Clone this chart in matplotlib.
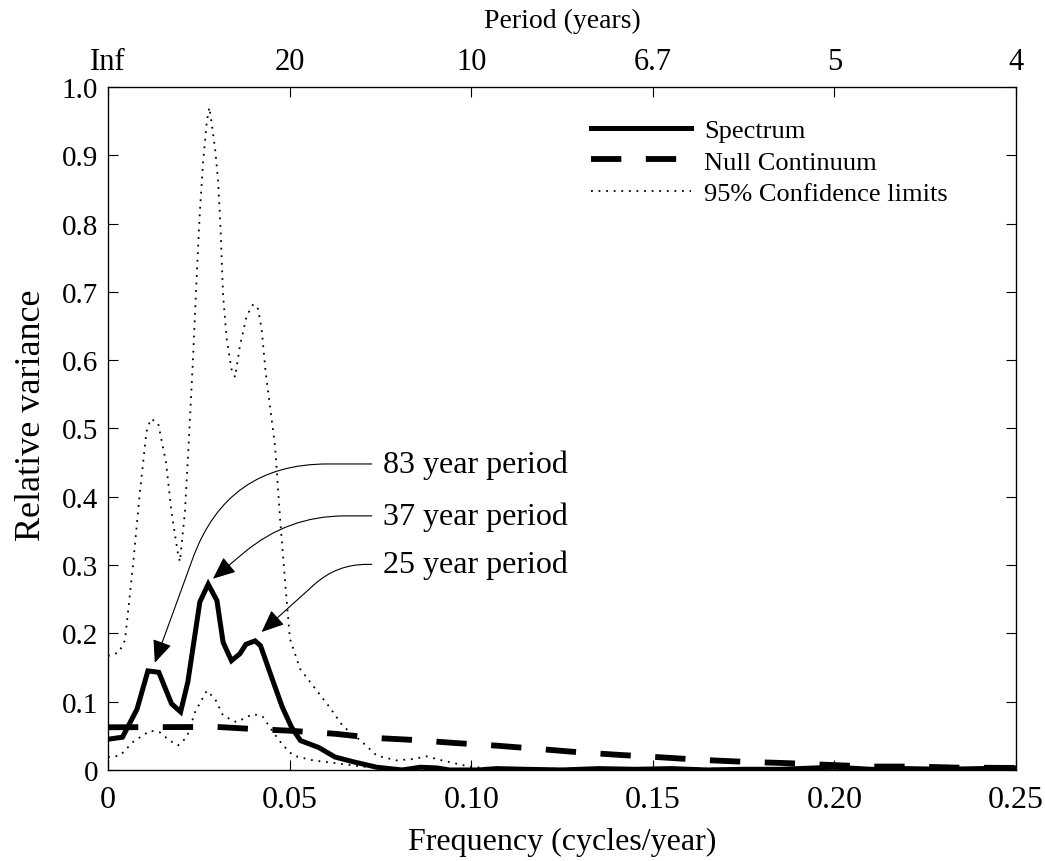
import matplotlib
matplotlib.use("Agg")
import matplotlib.pyplot as plt

plt.rcParams['font.family'] = ['Liberation Serif', 'DejaVu Serif']
plt.rcParams['mathtext.fontset'] = 'stix'

# Spectrum (relative variance vs frequency, cycles/year)
spec_f = [0, 0.004, 0.008, 0.011, 0.014, 0.0175, 0.020, 0.022, 0.0253, 0.0276,
          0.030, 0.0317, 0.034, 0.0363, 0.038, 0.0405, 0.042, 0.0455, 0.048,
          0.0505, 0.053, 0.058, 0.0625, 0.0675, 0.074, 0.081, 0.086, 0.0905,
          0.094, 0.102, 0.107, 0.115, 0.125, 0.135, 0.145, 0.155, 0.165,
          0.175, 0.185, 0.195, 0.200, 0.210, 0.220, 0.230, 0.240, 0.250]
spec_v = [0.045, 0.048, 0.089, 0.145, 0.143, 0.097, 0.085, 0.129, 0.246, 0.272,
          0.248, 0.187, 0.160, 0.170, 0.184, 0.189, 0.182, 0.129, 0.092,
          0.063, 0.043, 0.033, 0.019, 0.012, 0.004, 0.000, 0.004, 0.003,
          0.000, 0.000, 0.002, 0.001, 0.000, 0.002, 0.001, 0.002, 0.000,
          0.001, 0.001, 0.003, 0.004, 0.001, 0.002, 0.001, 0.002, 0.003]

# Red-noise null continuum
null_f = [0, 0.030, 0.040, 0.050, 0.0625, 0.073, 0.084, 0.0955, 0.107, 0.118,
          0.1295, 0.141, 0.152, 0.164, 0.175, 0.187, 0.199, 0.210, 0.222,
          0.234, 0.250]
null_v = [0.0625, 0.063, 0.060, 0.0575, 0.053, 0.047, 0.044, 0.0395, 0.0356,
          0.031, 0.026, 0.022, 0.0186, 0.0146, 0.012, 0.010, 0.0073, 0.005,
          0.005, 0.0034, 0.003]

# 95% confidence limits, upper
up_f = [0, 0.003, 0.0047, 0.0069, 0.0088, 0.0106, 0.0118, 0.0138, 0.016,
        0.0175, 0.0193, 0.0198, 0.0212, 0.0222, 0.0234, 0.0244, 0.0253,
        0.0262, 0.0272, 0.0279, 0.0285, 0.0295, 0.0303, 0.031, 0.0317,
        0.0327, 0.034, 0.035, 0.0363, 0.0382, 0.040, 0.0413, 0.0423, 0.0434,
        0.046, 0.0474, 0.0487, 0.0501, 0.0529, 0.0565, 0.061, 0.0647, 0.070,
        0.074, 0.0795, 0.084, 0.0877, 0.092, 0.0978, 0.1005, 0.11, 0.13,
        0.15, 0.17, 0.19, 0.21, 0.23, 0.25]
up_v = [0.167, 0.172, 0.19, 0.30, 0.407, 0.495, 0.514, 0.508, 0.45,
        0.377, 0.316, 0.305, 0.378, 0.475, 0.60, 0.719, 0.817,
        0.89, 0.949, 0.97, 0.949, 0.909, 0.865, 0.792, 0.694,
        0.631, 0.587, 0.575, 0.62, 0.665, 0.682, 0.675, 0.646, 0.583,
        0.474, 0.367, 0.28, 0.192, 0.148, 0.123, 0.092, 0.064, 0.041,
        0.021, 0.014, 0.016, 0.020, 0.014, 0.007, 0.004, 0.002, 0.002,
        0.002, 0.002, 0.002, 0.002, 0.002, 0.002]

# 95% confidence limits, lower
lo_f = [0, 0.0033, 0.0069, 0.0116, 0.0143, 0.017, 0.0193, 0.0217, 0.024,
        0.0272, 0.0295, 0.0317, 0.0354, 0.040, 0.0427, 0.0455, 0.0482, 0.051,
        0.0565, 0.064, 0.071, 0.080, 0.10, 0.15, 0.20, 0.25]
lo_v = [0.0186, 0.021, 0.041, 0.0576, 0.055, 0.043, 0.036, 0.048, 0.085,
        0.116, 0.104, 0.0795, 0.070, 0.082, 0.0776, 0.055, 0.036, 0.021,
        0.014, 0.009, 0.0044, 0.002, 0.001, 0.001, 0.001, 0.001]

# Top axis: period = 1/frequency
freq_ticks = [0, 0.05, 0.10, 0.15, 0.20, 0.25]
freq_labels = ['0', '0.05', '0.10', '0.15', '0.20', '0.25']
period_labels = ['Inf', '20', '10', '6.7', '5', '4']
var_ticks = [0, 0.1, 0.2, 0.3, 0.4, 0.5, 0.6, 0.7, 0.8, 0.9, 1.0]
var_labels = ['0', '0.1', '0.2', '0.3', '0.4', '0.5', '0.6', '0.7', '0.8', '0.9', '1.0']

# Annotated peaks: label, arrow tip (f, v), text height, arrow bend
peak_labels = ['83 year period', '37 year period', '25 year period']
peak_tips = [(0.0129, 0.157), (0.0289, 0.280), (0.0423, 0.202)]
peak_text_v = [0.448, 0.372, 0.301]
peak_angles = [70, 40, 42]
peak_rads = [100, 57, 30]

fig = plt.figure(figsize=(10.45, 8.62), dpi=100)
ax = fig.add_axes([0.1033, 0.1056, 0.869, 0.7924])

ax.plot(spec_f, spec_v, color='k', lw=3.6, solid_joinstyle='miter', label='Spectrum')
ax.plot(null_f, null_v, color='k', lw=4.2, linestyle=(0, (5.2, 4.2)), label='Null Continuum')
ax.plot(up_f, up_v, color='k', lw=1.3, linestyle=(0, (1, 3.2)), label='95% Confidence limits')
ax.plot(lo_f, lo_v, color='k', lw=1.3, linestyle=(0, (1, 3.2)))

ax.set_xlim(0, 0.25)
ax.set_ylim(0, 1.0)
ax.set_xticks(freq_ticks)
ax.set_xticklabels(freq_labels)
ax.set_yticks(var_ticks)
ax.set_yticklabels(var_labels)
ax.tick_params(direction='in', length=7, width=0.8, right=True)
ax.tick_params(axis='x', labelsize=23, pad=11)
ax.tick_params(axis='y', labelsize=21, pad=7)
ax.set_xlabel('Frequency (cycles/year)', fontsize=23, labelpad=9)
ax.set_ylabel('Relative variance', fontsize=26)
ax.yaxis.set_label_coords(-0.066, 0.521)
for sp in ax.spines.values():
    sp.set_linewidth(0.9)

top = ax.twiny()
top.set_xlim(ax.get_xlim())
top.set_xticks(freq_ticks)
top.set_xticklabels(period_labels)
top.tick_params(direction='in', length=7, width=0.8, labelsize=22, pad=8)
top.set_xlabel('Period (years)', fontsize=20, labelpad=14)

for label, tip, tv, ang, rad in zip(peak_labels, peak_tips, peak_text_v,
                                    peak_angles, peak_rads):
    ax.annotate(label, xy=tip, xytext=(0.0757, tv), fontsize=23,
                va='center', ha='left',
                arrowprops=dict(arrowstyle='-|>,head_length=0.7,head_width=0.3',
                                mutation_scale=20, color='k', lw=0.8,
                                relpos=(0, 0.5), shrinkA=6, shrinkB=0,
                                connectionstyle=f'angle,angleA=0,angleB={ang},rad={rad}'))

leg = ax.legend(loc='upper left', bbox_to_anchor=(0.52, 0.969), frameon=False,
                fontsize=19, handlelength=3.8, handletextpad=0.5,
                labelspacing=0.3, borderaxespad=0)

fig.savefig('out.png', dpi=100)
